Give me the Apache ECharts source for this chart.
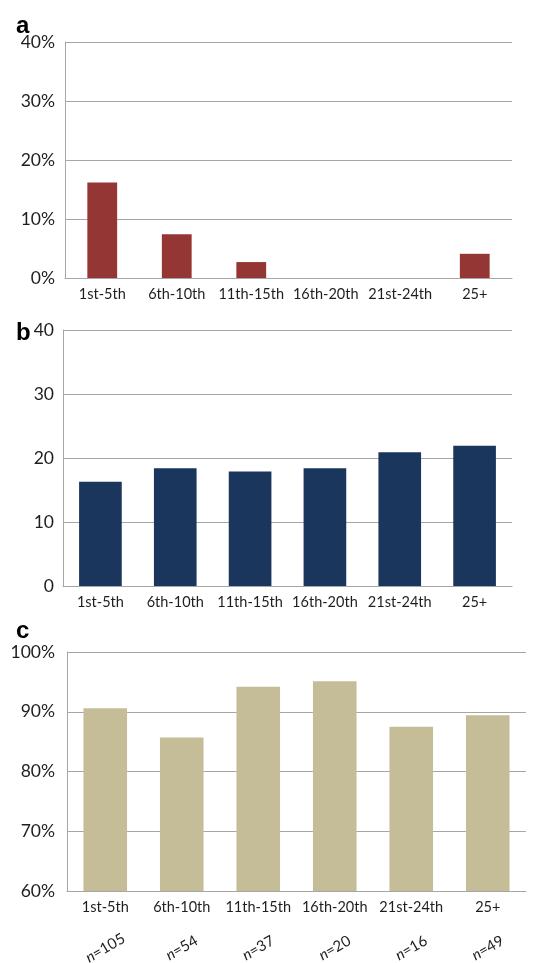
<!DOCTYPE html>
<html>
<head>
<meta charset="utf-8">
<script src="https://cdn.jsdelivr.net/npm/echarts@6/dist/echarts.min.js"></script>
<style>
  html, body { margin: 0; padding: 0; background: #fff; }
  #chart { width: 538px; height: 963px; }
</style>
</head>
<body>
<div id="chart"></div>
<script>
// Race-position groups shared by all three panels
const categories = ['1st-5th', '6th-10th', '11th-15th', '16th-20th', '21st-24th', '25+'];
// Panel a: share of starts (percent)
const valuesA = [16.2, 7.4, 2.7, 0, 0, 4.1];
// Panel b: mean value per group
const valuesB = [16.3, 18.4, 17.9, 18.4, 20.9, 21.9];
// Panel c: percent per group
const valuesC = [90.6, 85.7, 94.2, 95.1, 87.5, 89.4];
// Sample sizes printed under panel c
const sampleSizes = [105, 54, 37, 20, 16, 49];

const FONT = 'Lato, "Open Sans", sans-serif';
const GRID_LINE = '#a6a6a6';
const TEXT = '#1e1e1e';

function valueAxis(gridIndex, min, max, interval, fmt, margin) {
  return {
    type: 'value', gridIndex, min, max, interval,
    axisLine: { show: true, lineStyle: { color: GRID_LINE, width: 1 } },
    axisTick: { show: false },
    splitLine: { show: true, lineStyle: { color: GRID_LINE, width: 1 } },
    axisLabel: { formatter: fmt, color: TEXT, fontFamily: FONT, fontSize: 17.5, margin }
  };
}
function catAxis(gridIndex) {
  return {
    type: 'category', gridIndex, data: categories,
    axisLine: { show: true, lineStyle: { color: GRID_LINE, width: 1 } },
    axisTick: { show: false },
    axisLabel: { color: TEXT, fontFamily: FONT, fontSize: 14.5, margin: 9, interval: 0 }
  };
}

const panelTitle = {
  fontFamily: 'Liberation Sans, Arial, sans-serif', fontWeight: 'bold', fontSize: 24, color: '#000'
};

const chart = echarts.init(document.getElementById('chart'), null, { renderer: 'canvas' });
chart.setOption({
  animation: false,
  backgroundColor: '#ffffff',
  title: [
    { text: 'a', left: 11, top: 9, textStyle: panelTitle },
    { text: 'b', left: 11, top: 316, textStyle: panelTitle },
    { text: 'c', left: 11, top: 614, textStyle: panelTitle }
  ],
  grid: [
    { left: 65, right: 26, top: 42, bottom: 685, outerBoundsMode: 'none', containLabel: false },
    { left: 63, right: 26, top: 330, bottom: 377, outerBoundsMode: 'none', containLabel: false },
    { left: 67, right: 12, top: 652, bottom: 72, outerBoundsMode: 'none', containLabel: false }
  ],
  xAxis: [
    catAxis(0),
    catAxis(1),
    catAxis(2),
    {
      type: 'category', gridIndex: 2, data: sampleSizes, position: 'bottom',
      axisLine: { show: false }, axisTick: { show: false },
      axisLabel: {
        interval: 0, rotate: 30, margin: 57, align: 'center', verticalAlign: 'middle',
        color: TEXT, fontFamily: FONT, fontSize: 15,
        formatter: v => '{i|n}=' + v,
        rich: { i: { fontStyle: 'italic', fontFamily: FONT, fontSize: 15, color: TEXT } }
      }
    }
  ],
  yAxis: [
    valueAxis(0, 0, 40, 10, '{value}%', 10),
    valueAxis(1, 0, 40, 10, '{value}', 9),
    valueAxis(2, 60, 100, 10, '{value}%', 12)
  ],
  series: [
    { type: 'bar', xAxisIndex: 0, yAxisIndex: 0, data: valuesA, barWidth: '40%', itemStyle: { color: '#943634' } },
    { type: 'bar', xAxisIndex: 1, yAxisIndex: 1, data: valuesB, barWidth: '57%', itemStyle: { color: '#1a365d' } },
    { type: 'bar', xAxisIndex: 2, yAxisIndex: 2, data: valuesC, barWidth: '57%', itemStyle: { color: '#c4bd97' } }
  ]
});
</script>
</body>
</html>
